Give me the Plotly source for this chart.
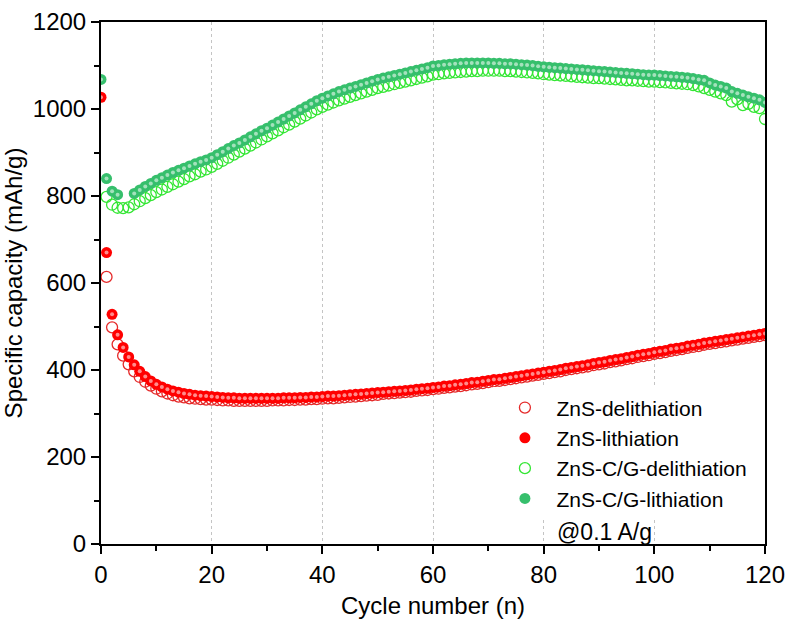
import plotly.graph_objects as go

cycles = list(range(0, 121))

zns_lith = [1027, 670, 528, 481, 452, 430, 412, 397, 385, 375,
            367, 361, 356, 352, 349, 346, 344, 342, 341, 340,
            339, 338, 337, 336, 336, 335, 335, 335, 335, 335,
            335, 335, 335, 336, 336, 336, 337, 337, 338, 338,
            339, 340, 340, 341, 342, 343, 344, 345, 346, 347,
            348, 349, 350, 351, 352, 353, 354, 356, 357, 358,
            360, 361, 363, 364, 366, 367, 369, 371, 372, 374,
            376, 378, 379, 381, 383, 385, 387, 389, 391, 393,
            395, 397, 399, 401, 404, 406, 408, 410, 412, 415,
            417, 419, 422, 424, 426, 429, 431, 434, 436, 438,
            441, 443, 445, 448, 450, 452, 455, 457, 459, 462,
            464, 466, 468, 470, 472, 474, 476, 478, 480, 482,
            484]

zns_delith = [None, 614, 498, 459, 433, 413, 397, 384, 373, 364,
              357, 351, 346, 342, 339, 337, 335, 334, 333, 332,
              332, 331, 330, 330, 329, 329, 329, 329, 329, 329,
              329, 330, 330, 330, 331, 331, 332, 332, 333, 333,
              334, 335, 335, 336, 337, 338, 339, 340, 341, 342,
              343, 345, 346, 347, 348, 349, 350, 352, 353, 354,
              356, 357, 359, 360, 362, 363, 365, 367, 368, 370,
              372, 374, 375, 377, 379, 381, 383, 385, 387, 389,
              391, 393, 395, 397, 400, 402, 404, 406, 408, 411,
              413, 415, 418, 420, 422, 425, 427, 430, 432, 434,
              437, 439, 441, 444, 446, 448, 451, 453, 455, 458,
              460, 462, 464, 466, 468, 470, 472, 474, 476, 478,
              480]

cg_lith = [1068, 840, 811, 803, None, None, 806, 814, 822, 829,
           836, 842, 848, 854, 859, 864, 869, 874, 879, 883,
           888, 895, 902, 909, 916, 922, 929, 936, 943, 950,
           956, 963, 970, 977, 984, 991, 998, 1005, 1012, 1019,
           1025, 1030, 1035, 1040, 1044, 1048, 1052, 1056, 1060, 1064,
           1068, 1071, 1074, 1077, 1080, 1083, 1086, 1089, 1092, 1095,
           1099, 1100, 1102, 1103, 1104, 1105, 1106, 1106, 1106, 1106,
           1106, 1105, 1105, 1104, 1104, 1103, 1102, 1101, 1100, 1098,
           1097, 1096, 1095, 1094, 1093, 1092, 1091, 1090, 1089, 1088,
           1087, 1086, 1085, 1084, 1083, 1082, 1081, 1080, 1079, 1078,
           1078, 1077, 1076, 1075, 1074, 1073, 1072, 1070, 1068, 1066,
           1060, 1055, 1052, 1048, 1040, 1036, 1032, 1028, 1025, 1021,
           1015]

cg_delith = [None, 798, 780, 773, 772, 774, 781, 788, 795, 802,
             809, 815, 821, 827, 833, 839, 845, 850, 856, 861,
             867, 874, 881, 888, 895, 902, 909, 916, 923, 930,
             937, 944, 951, 958, 964, 971, 978, 985, 992, 999,
             1005, 1010, 1015, 1020, 1024, 1028, 1032, 1036, 1040, 1044,
             1048, 1051, 1054, 1057, 1060, 1063, 1066, 1069, 1072, 1075,
             1079, 1080, 1082, 1083, 1084, 1085, 1086, 1087, 1087, 1088,
             1088, 1088, 1088, 1087, 1087, 1086, 1085, 1084, 1083, 1082,
             1080, 1079, 1078, 1077, 1076, 1075, 1074, 1073, 1072, 1071,
             1071, 1070, 1069, 1068, 1067, 1066, 1066, 1065, 1064, 1063,
             1063, 1062, 1061, 1060, 1059, 1058, 1057, 1055, 1052, 1048,
             1044, 1040, 1036, 1032, 1017, 1022, 1009, 1012, 1005, 1002,
             977]

x_ticks = [0, 20, 40, 60, 80, 100, 120]
y_ticks = [0, 200, 400, 600, 800, 1000, 1200]

RED = "#ff0000"
RED_HOLLOW = "#e52a2a"
GREEN = "#36bf6c"
GREEN_HOLLOW = "#33e633"
MS = 11
FONT = "Arial, Liberation Sans, sans-serif"

fig = go.Figure()
fig.add_trace(go.Scatter(x=cycles, y=zns_delith, mode="markers", name="ZnS-delithiation",
                         marker=dict(symbol="circle-open", size=MS, color=RED_HOLLOW, line=dict(width=1.3))))
fig.add_trace(go.Scatter(x=cycles, y=zns_lith, mode="markers", name="ZnS-lithiation",
                         marker=dict(symbol="circle", size=MS, color=RED, line=dict(width=0))))
fig.add_trace(go.Scatter(x=cycles, y=cg_delith, mode="markers", name="ZnS-C/G-delithiation",
                         marker=dict(symbol="circle-open", size=MS, color=GREEN_HOLLOW, line=dict(width=1.3))))
fig.add_trace(go.Scatter(x=cycles, y=cg_lith, mode="markers", name="ZnS-C/G-lithiation",
                         marker=dict(symbol="circle", size=MS, color=GREEN, line=dict(width=0))))
# glossy highlights on the filled balls
for ys in (zns_lith, cg_lith):
    fig.add_trace(go.Scatter(x=cycles, y=ys, mode="markers", showlegend=False, hoverinfo="skip",
                             marker=dict(symbol="circle", size=4, color="rgba(255,255,255,0.55)",
                                         line=dict(width=0))))

axis_common = dict(
    showline=True, linecolor="black", linewidth=2, mirror=True,
    ticks="outside", ticklen=8, tickwidth=2, tickcolor="black",
    tickfont=dict(family=FONT, size=24, color="black"),
    zeroline=False, automargin=False,
)

fig.update_xaxes(range=[0, 120], tickvals=x_ticks,
                 showgrid=True, gridcolor="#c4c4c4", griddash="dot", gridwidth=1,
                 minor=dict(ticks="outside", ticklen=5, tickwidth=2, tickcolor="black", dtick=10, showgrid=False),
                 title=dict(text="Cycle number (n)", font=dict(family=FONT, size=24, color="black")),
                 **axis_common)
fig.update_yaxes(range=[0, 1200], tickvals=y_ticks, showgrid=False,
                 minor=dict(ticks="outside", ticklen=5, tickwidth=2, tickcolor="black", dtick=100, showgrid=False),
                 title=dict(text="Specific capacity (mAh/g)", font=dict(family=FONT, size=24, color="black")),
                 **axis_common)

fig.update_layout(
    width=791, height=619,
    margin=dict(l=101, r=26, t=22, b=75),
    plot_bgcolor="white", paper_bgcolor="white",
    legend=dict(x=0.591, y=0.30, xanchor="left", yanchor="top",
                bgcolor="white", borderwidth=0,
                font=dict(family=FONT, size=21, color="black"),
                itemsizing="trace", itemwidth=53, tracegroupgap=0),
    annotations=[dict(text="@0.1 A/g", xref="paper", yref="paper", x=0.683, y=-0.006,
                      xanchor="left", yanchor="bottom", showarrow=False,
                      font=dict(family=FONT, size=23, color="black"))],
)

fig.write_html("out.html")
